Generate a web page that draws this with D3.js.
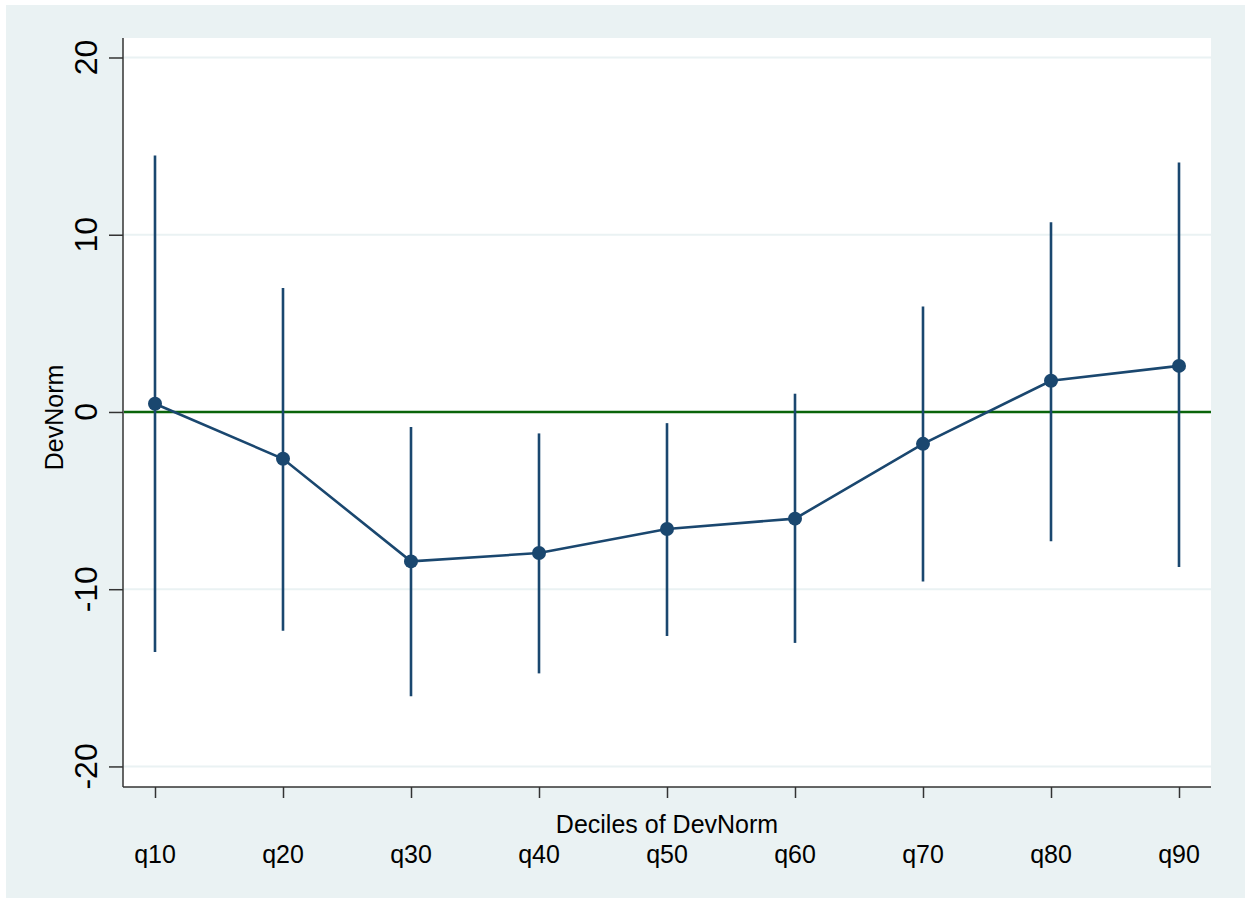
<!DOCTYPE html>
<html>
<head>
<meta charset="utf-8">
<script src="https://cdn.jsdelivr.net/npm/d3@7/dist/d3.min.js"></script>
<style>
  html, body { margin: 0; padding: 0; background: #ffffff; }
  svg { display: block; }
  text { font-family: "Liberation Sans", Arial, sans-serif; fill: #000; }
</style>
</head>
<body>
<svg id="chart" width="1247" height="899"></svg>
<script>
const categories = ["q10", "q20", "q30", "q40", "q50", "q60", "q70", "q80", "q90"];
const estimates  = [0.46, -2.64, -8.43, -7.96, -6.60, -6.02, -1.80, 1.76, 2.60];
const ciUpper    = [14.47, 6.99, -0.85, -1.21, -0.63, 1.03, 5.95, 10.71, 14.07];
const ciLower    = [-13.54, -12.34, -16.04, -14.75, -12.64, -13.03, -9.56, -7.30, -8.75];
const yTicks     = [-20, -10, 0, 10, 20];
const refLine    = 0;
const xTitle = "Deciles of DevNorm";
const yTitle = "DevNorm";

const W = 1247, H = 899;
const plot = { left: 123, right: 1211, top: 38, bottom: 787 };
const navy = "#1a476f";
const bg = "#eaf2f3";

const svg = d3.select("#chart");

// outer background
svg.append("rect").attr("x", 6).attr("y", 5).attr("width", 1239).attr("height", 893).attr("fill", bg);
// plot region
svg.append("rect").attr("x", plot.left).attr("y", plot.top)
  .attr("width", plot.right - plot.left).attr("height", plot.bottom - plot.top).attr("fill", "#ffffff");

const x = d3.scaleLinear().domain([0.75, 9.25]).range([plot.left, plot.right]);
const y = d3.scaleLinear().domain([-21.16, 21.1]).range([plot.bottom, plot.top]);

// gridlines
svg.append("g").selectAll("line").data(yTicks).join("line")
  .attr("x1", plot.left).attr("x2", plot.right)
  .attr("y1", d => y(d)).attr("y2", d => y(d))
  .attr("stroke", bg).attr("stroke-width", 2);

// y axis
const yAxis = svg.append("g").attr("transform", `translate(${plot.left},0)`)
  .call(d3.axisLeft(y).tickValues(yTicks).tickSize(14).tickFormat(""));
yAxis.select(".domain").remove();
yAxis.selectAll(".tick line").attr("stroke", "#333").attr("stroke-width", 1.5);
svg.append("g").selectAll("text").data(yTicks).join("text")
  .attr("transform", d => `translate(97,${y(d)}) rotate(-90)`)
  .attr("text-anchor", "middle")
  .attr("font-size", 32)
  .text(d => String(d));

svg.append("line").attr("x1", plot.left).attr("x2", plot.left)
  .attr("y1", plot.top).attr("y2", plot.bottom).attr("stroke", "#333").attr("stroke-width", 1.5);

// x axis
const xAxis = svg.append("g").attr("transform", `translate(0,${plot.bottom})`)
  .call(d3.axisBottom(x).tickValues(d3.range(1, categories.length + 1)).tickSize(11).tickFormat(""));
xAxis.select(".domain").remove();
xAxis.selectAll(".tick line").attr("stroke", "#333").attr("stroke-width", 1.5);
svg.append("line").attr("x1", plot.left).attr("x2", plot.right)
  .attr("y1", plot.bottom).attr("y2", plot.bottom).attr("stroke", "#333").attr("stroke-width", 1.5);

svg.append("g").selectAll("text").data(categories).join("text")
  .attr("x", (d, i) => x(i + 1)).attr("y", 863)
  .attr("text-anchor", "middle").attr("font-size", 25)
  .text(d => d);

svg.append("text").attr("x", (plot.left + plot.right) / 2).attr("y", 833)
  .attr("text-anchor", "middle").attr("font-size", 25).text(xTitle);

svg.append("text").attr("transform", `translate(63,${(plot.top + plot.bottom) / 2 + 5}) rotate(-90)`)
  .attr("text-anchor", "middle").attr("font-size", 25).text(yTitle);

// reference line
svg.append("line").attr("x1", plot.left + 1).attr("x2", plot.right)
  .attr("y1", y(refLine)).attr("y2", y(refLine))
  .attr("stroke", "#0a640a").attr("stroke-width", 2.5);

// CI spikes
svg.append("g").selectAll("line").data(categories).join("line")
  .attr("x1", (d, i) => x(i + 1)).attr("x2", (d, i) => x(i + 1))
  .attr("y1", (d, i) => y(ciUpper[i])).attr("y2", (d, i) => y(ciLower[i]))
  .attr("stroke", navy).attr("stroke-width", 2.6);

// connecting line
const pts = categories.map((d, i) => [x(i + 1), y(estimates[i])]);
svg.append("path").attr("d", d3.line()(pts))
  .attr("fill", "none").attr("stroke", navy).attr("stroke-width", 2.6);

// markers
svg.append("g").selectAll("circle").data(pts).join("circle")
  .attr("cx", d => d[0]).attr("cy", d => d[1]).attr("r", 7)
  .attr("fill", navy);
</script>
</body>
</html>
